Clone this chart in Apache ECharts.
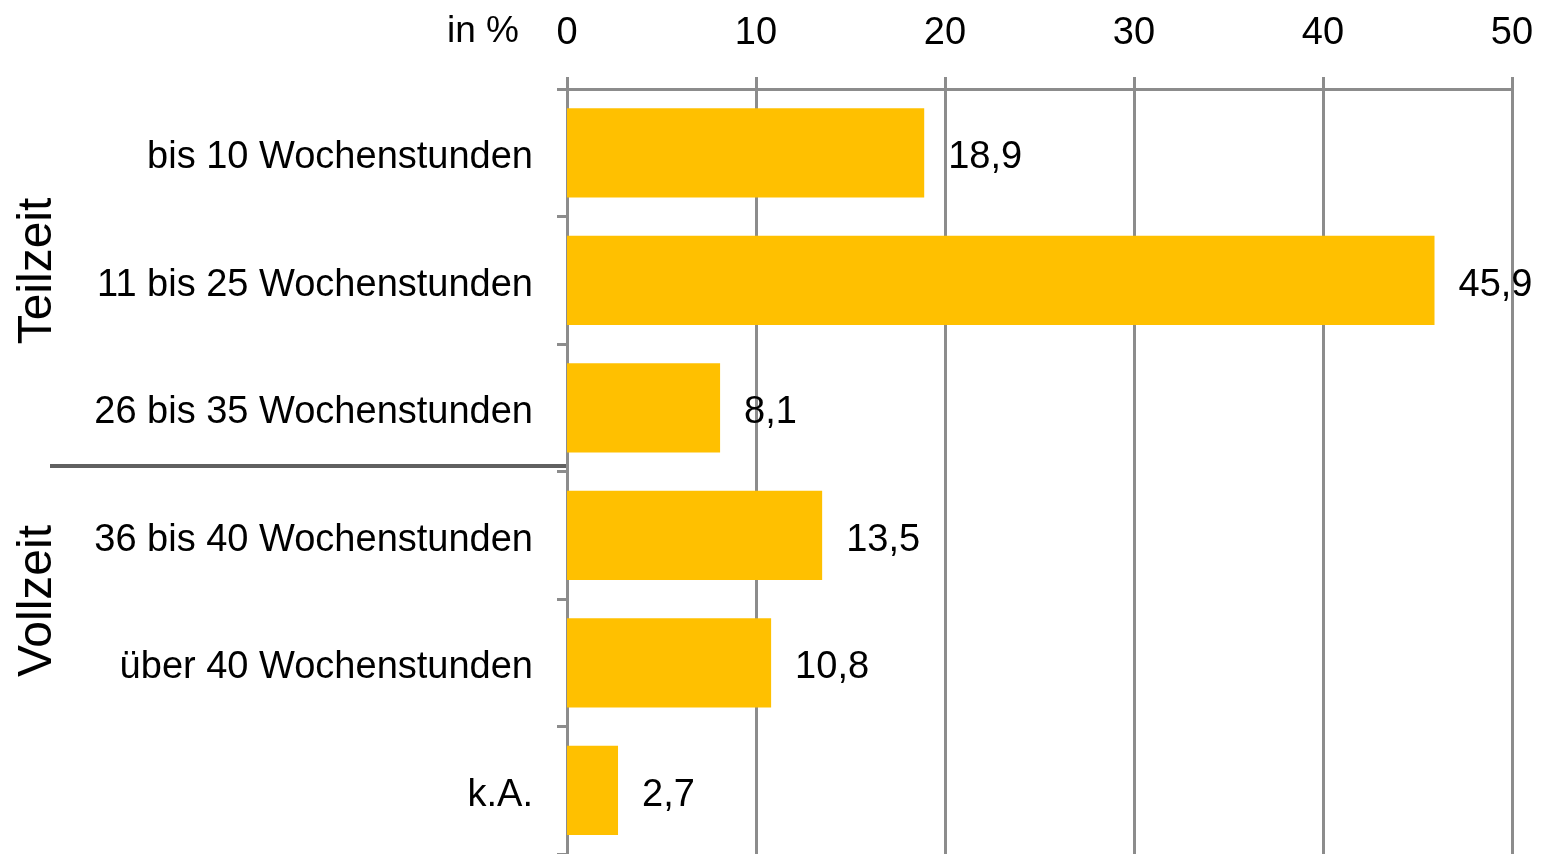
<!DOCTYPE html>
<html>
<head>
<meta charset="utf-8">
<script src="https://cdn.jsdelivr.net/npm/echarts@6/dist/echarts.min.js"></script>
<style>
    html, body { margin: 0; padding: 0; background: #fff; }
    #chart { width: 1543px; height: 854px; }
</style>
</head>
<body>
<div id="chart"></div>
<script>
var categories = ['bis 10 Wochenstunden', '11 bis 25 Wochenstunden', '26 bis 35 Wochenstunden',
    '36 bis 40 Wochenstunden', 'über 40 Wochenstunden', 'k.A.'];
var values = [18.9, 45.9, 8.1, 13.5, 10.8, 2.7];
var groupLabels = ['Teilzeit', 'Vollzeit'];
var unitLabel = 'in %';

var font = 'Liberation Sans, Arial, sans-serif';
var gray = '#8c8c8c';

var option = {
    animation: false,
    textStyle: { fontFamily: font },
    grid: { left: 567, right: 31, top: 89, height: 767 },
    xAxis: {
        type: 'value',
        position: 'top',
        min: 0,
        max: 50,
        interval: 10,
        axisLine: { show: true, lineStyle: { color: gray, width: 3 } },
        axisTick: { show: true, length: 12, lineStyle: { color: gray, width: 3 } },
        splitLine: { show: true, lineStyle: { color: gray, width: 3 } },
        axisLabel: { fontSize: 38, color: '#000', fontFamily: font, margin: 36 }
    },
    yAxis: {
        type: 'category',
        inverse: true,
        data: categories,
        axisLine: { show: true, lineStyle: { color: gray, width: 3 } },
        axisTick: { show: true, length: 10, lineStyle: { color: gray, width: 3 } },
        axisLabel: {
            margin: 34,
            formatter: function (v) {
                return '{a|' + v + '}';
            },
            rich: {
                a: { fontSize: 38, color: '#000', fontFamily: font, padding: [10, 0, 0, 0] }
            }
        }
    },
    series: [
        {
            type: 'bar',
            data: values,
            barCategoryGap: '30%',
            itemStyle: { color: '#FFC000' },
            label: {
                show: true,
                position: 'right',
                distance: 24,
                offset: [0, 5],
                fontSize: 38,
                color: '#000',
                fontFamily: font,
                formatter: function (p) {
                    return String(p.value).replace('.', ',');
                }
            }
        }
    ],
    graphic: [
        {
            type: 'text',
            left: 447,
            top: 13,
            style: { text: unitLabel, font: '37px ' + font, fill: '#000' }
        },
        {
            type: 'text',
            x: 38,
            y: 271,
            rotation: Math.PI / 2,
            style: { text: groupLabels[0], font: '48px ' + font, fill: '#000', align: 'center', verticalAlign: 'middle' }
        },
        {
            type: 'text',
            x: 38,
            y: 601,
            rotation: Math.PI / 2,
            style: { text: groupLabels[1], font: '48px ' + font, fill: '#000', align: 'center', verticalAlign: 'middle' }
        },
        {
            type: 'line',
            shape: { x1: 50, y1: 466, x2: 567, y2: 466 },
            style: { stroke: '#606060', lineWidth: 4 }
        }
    ]
};

var chart = echarts.init(document.getElementById('chart'));
chart.setOption(option);
</script>
</body>
</html>
